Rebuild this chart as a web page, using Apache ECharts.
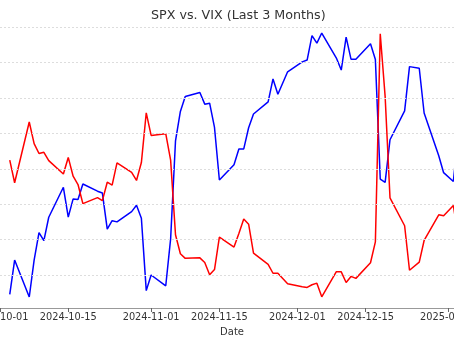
<!DOCTYPE html>
<html>
<head>
<meta charset="utf-8">
<title>SPX vs. VIX</title>
<script src="https://cdn.jsdelivr.net/npm/echarts@6/dist/echarts.min.js"></script>
<style>
  html, body { margin: 0; padding: 0; background: #fff; }
  #chart { width: 454px; height: 341px; }
</style>
</head>
<body>
<div id="chart"></div>
<script>
// trading days shown in the chart
const dates = [
  '2024-10-03', '2024-10-04', '2024-10-07', '2024-10-08', '2024-10-09', '2024-10-10', '2024-10-11',
  '2024-10-14', '2024-10-15', '2024-10-16', '2024-10-17', '2024-10-18', '2024-10-21', '2024-10-22',
  '2024-10-23', '2024-10-24', '2024-10-25', '2024-10-28', '2024-10-29', '2024-10-30', '2024-10-31',
  '2024-11-01', '2024-11-04', '2024-11-05', '2024-11-06', '2024-11-07', '2024-11-08', '2024-11-11',
  '2024-11-12', '2024-11-13', '2024-11-14', '2024-11-15', '2024-11-18', '2024-11-19', '2024-11-20',
  '2024-11-21', '2024-11-22', '2024-11-25', '2024-11-26', '2024-11-27', '2024-11-29',
  '2024-12-02', '2024-12-03', '2024-12-04', '2024-12-05', '2024-12-06', '2024-12-09', '2024-12-10',
  '2024-12-11', '2024-12-12', '2024-12-13', '2024-12-16', '2024-12-17', '2024-12-18', '2024-12-19',
  '2024-12-20', '2024-12-23', '2024-12-24', '2024-12-26', '2024-12-27', '2024-12-30', '2024-12-31',
  '2025-01-02', '2025-01-03'
]

const spx = [
  5699.94, 5751.07, 5695.94, 5751.13, 5792.04, 5780.05, 5815.03,
  5859.85, 5815.26, 5842.47, 5841.47, 5864.67, 5853.98, 5851.20,
  5797.42, 5809.86, 5808.12, 5823.52, 5832.92, 5813.67, 5705.45,
  5728.80, 5712.69, 5782.76, 5929.04, 5973.10, 5995.54, 6001.35,
  5983.99, 5985.38, 5949.17, 5870.62, 5893.62, 5916.98, 5917.11,
  5948.71, 5969.34, 5987.37, 6021.63, 5998.74, 6032.38,
  6047.15, 6049.88, 6086.49, 6075.11, 6090.27, 6052.85, 6034.91,
  6084.19, 6051.25, 6051.09, 6074.08, 6050.61, 5872.16, 5867.08,
  5930.85, 5974.07, 6040.04, 6037.59, 5970.84, 5906.94, 5881.63,
  5868.55, 5942.47
]

const vix = [
  20.49, 19.21, 22.64, 21.42, 20.86, 20.93, 20.46,
  19.70, 20.64, 19.58, 19.11, 18.03, 18.37, 18.20,
  19.24, 19.08, 20.33, 19.80, 19.34, 20.35, 23.16,
  21.88, 21.98, 20.49, 16.27, 15.20, 14.94, 14.97,
  14.71, 14.02, 14.31, 16.14, 15.58, 16.35, 17.16,
  16.87, 15.24, 14.60, 14.10, 14.10, 13.51,
  13.34, 13.30, 13.45, 13.54, 12.77, 14.19, 14.18,
  13.58, 13.92, 13.81, 14.69, 15.87, 27.62, 24.09,
  18.36, 16.78, 14.27, 14.73, 15.95, 17.40, 17.35,
  17.93, 16.13
]

// x tick labels and the horizontal grid (VIX scale)
const xTicks = ['2024-10-01', '2024-10-15', '2024-11-01', '2024-11-15', '2024-12-01', '2024-12-15', '2025-01-01']
const vixGrid = [14, 16, 18, 20, 22, 24, 26, 28]

function toTime(s) {
  const p = s.split('-').map(Number)
  return new Date(p[0], p[1] - 1, p[2]).getTime()
}
function pad(n) {
  return n < 10 ? '0' + n : '' + n
}
function fmt(t) {
  const d = new Date(t)
  return d.getFullYear() + '-' + pad(d.getMonth() + 1) + '-' + pad(d.getDate())
}

const DAY = 24 * 3600 * 1000
const xMin = toTime('2024-10-01')
const xMax = xMin + 95.18 * DAY
const tickTimes = xTicks.map(toTime)

const chart = echarts.init(document.getElementById('chart'))
chart.setOption({
  animation: false,
  textStyle: { fontFamily: 'DejaVu Sans' },
  title: {
    text: 'SPX vs. VIX (Last 3 Months)',
    left: 146,
    top: 4,
    textStyle: {
      color: '#333333',
      fontSize: 12.7,
      fontWeight: 'normal',
      fontFamily: 'DejaVu Sans'
    }
  },
  grid: {
    left: 0,
    right: -10,
    top: 20,
    bottom: 33,
    containLabel: false,
    outerBoundsMode: 'none'
  },
  xAxis: {
    // dates as timestamps on a plain value axis
    type: 'value',
    min: xMin,
    max: xMax,
    name: 'Date',
    nameLocation: 'middle',
    nameGap: 19,
    nameTextStyle: { color: '#333333', fontSize: 10 },
    splitLine: { show: false },
    axisLine: { lineStyle: { color: '#999999', width: 1 } },
    axisTick: {
      customValues: tickTimes,
      length: 4,
      lineStyle: { color: '#666666', width: 1 }
    },
    axisLabel: {
      customValues: tickTimes,
      formatter: function(v) { return fmt(v) },
      color: '#333333',
      fontSize: 9.8,
      margin: 4,
      hideOverlap: false
    }
  },
  yAxis: [{
    // SPX
    type: 'value',
    show: false,
    min: 5679.5,
    max: 6109.7,
    splitLine: { show: false }
  }, {
    // VIX
    type: 'value',
    show: false,
    min: 12.137,
    max: 28.40,
    splitLine: { show: false }
  }],
  series: [{
    name: 'SPX',
    type: 'line',
    yAxisIndex: 0,
    showSymbol: false,
    data: dates.map((d, i) => [toTime(d), spx[i]]),
    lineStyle: { color: '#0000ff', width: 1.5 },
    itemStyle: { color: '#0000ff' },
    z: 3
  }, {
    name: 'VIX',
    type: 'line',
    yAxisIndex: 1,
    showSymbol: false,
    data: dates.map((d, i) => [toTime(d), vix[i]]),
    lineStyle: { color: '#ff0000', width: 1.5 },
    itemStyle: { color: '#ff0000' },
    z: 4,
    markLine: {
      silent: true,
      symbol: 'none',
      label: { show: false },
      lineStyle: { color: '#dddddd', type: [2, 2], width: 1 },
      emphasis: { disabled: true },
      data: vixGrid.map(v => ({ yAxis: v }))
    }
  }]
})
</script>
</body>
</html>
